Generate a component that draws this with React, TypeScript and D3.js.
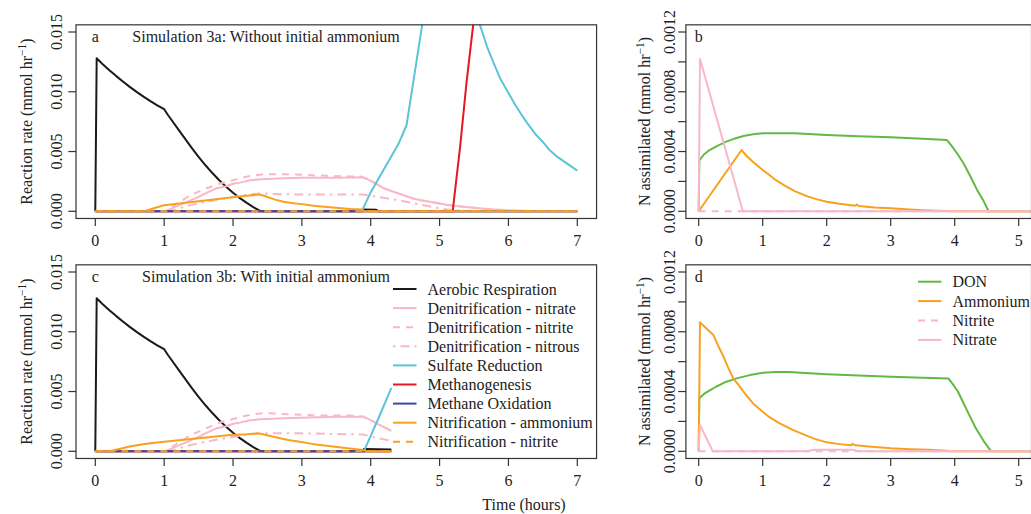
import React from 'react';
import * as d3 from 'd3';

type Pt = [number, number];

// Simulation 3a (no initial ammonium): reaction rates, [hours, mmol hr^-1]
const aerobicA: Pt[] = [[0, 0], [0.02, 0.0128], [0.1, 0.01235], [0.2, 0.01183], [0.3, 0.01133], [0.4, 0.01086], [0.5, 0.01041], [0.6, 0.00999], [0.7, 0.00959], [0.8, 0.00922], [0.9, 0.00887], [1.0, 0.00854], [1.05, 0.0081], [1.1, 0.0077], [1.2, 0.0069], [1.3, 0.0061], [1.4, 0.0053], [1.5, 0.00455], [1.6, 0.00385], [1.7, 0.0032], [1.8, 0.0026], [1.9, 0.00205], [2.0, 0.00155], [2.1, 0.0011], [2.2, 0.0007], [2.3, 0.00033], [2.38, 0.00008], [2.42, 0], [3.86, 0], [3.88, 0.00015], [4.08, 0.00012], [4.12, 0], [7, 0]];
const denitNitrateA: Pt[] = [[0, 0], [1.0, 0], [1.05, 0.0001], [1.1, 0.0002], [1.2, 0.00045], [1.3, 0.0007], [1.4, 0.00095], [1.5, 0.0012], [1.6, 0.0015], [1.75, 0.0019], [1.9, 0.0021], [2.0, 0.0023], [2.1, 0.0024], [2.25, 0.0026], [2.4, 0.00268], [2.5, 0.0027], [2.75, 0.00276], [3.0, 0.0028], [3.5, 0.0028], [3.87, 0.00285], [3.95, 0.0027], [4.05, 0.0024], [4.2, 0.0019], [4.3, 0.0017], [4.4, 0.0015], [4.5, 0.0013], [4.6, 0.0011], [4.73, 0.00093], [4.86, 0.0008], [5.0, 0.00065], [5.1, 0.00055], [5.2, 0.00047], [5.34, 0.00039], [5.5, 0.0003], [5.73, 0.00017], [6.0, 0.00008], [6.3, 0.00002], [6.5, 0], [7, 0]];
const denitNitriteA: Pt[] = [[0, 0], [1.04, 0], [1.1, 0.0003], [1.2, 0.0007], [1.3, 0.00105], [1.4, 0.0014], [1.5, 0.00165], [1.6, 0.0019], [1.7, 0.0021], [1.8, 0.0023], [1.9, 0.00245], [2.0, 0.0026], [2.1, 0.00275], [2.2, 0.0029], [2.3, 0.003], [2.45, 0.0031], [2.8, 0.0031], [3.2, 0.003], [3.7, 0.00292], [3.87, 0.0029], [3.95, 0.0027], [4.05, 0.0024], [4.2, 0.0019], [4.3, 0.0017], [4.4, 0.0015], [4.5, 0.0013], [4.6, 0.0011], [4.73, 0.00093], [4.86, 0.0008], [5.0, 0.00065], [5.1, 0.00055], [5.2, 0.00047], [5.34, 0.00039], [5.5, 0.0003], [5.73, 0.00017], [6.0, 0.00008], [6.3, 0.00002], [6.5, 0], [7, 0]];
const denitNitrousA: Pt[] = [[0, 0], [1.1, 0], [1.2, 0.0002], [1.3, 0.0004], [1.45, 0.0006], [1.6, 0.0008], [1.8, 0.001], [2.0, 0.0012], [2.2, 0.00138], [2.4, 0.0015], [2.6, 0.00145], [3.0, 0.0014], [3.5, 0.0014], [3.87, 0.0014], [4.0, 0.0013], [4.1, 0.0012], [4.25, 0.00107], [4.38, 0.00095], [4.5, 0.00082], [4.6, 0.0007], [4.73, 0.00055], [4.86, 0.0004], [5.05, 0.0002], [5.2, 0.0001], [5.5, 0], [7, 0]];
const sulfateA: Pt[] = [[0, 0], [3.87, 0], [4.0, 0.0016], [4.1, 0.0026], [4.2, 0.0036], [4.3, 0.0046], [4.4, 0.0056], [4.52, 0.0072], [4.75, 0.0157], [4.9, 0.022], [5.2, 0.03], [5.4, 0.025], [5.58, 0.0157], [5.7, 0.0136], [5.8, 0.0122], [5.88, 0.0111], [6.0, 0.0099], [6.1, 0.0089], [6.2, 0.008], [6.27, 0.0074], [6.4, 0.0064], [6.5, 0.0058], [6.6, 0.0051], [6.7, 0.0046], [6.8, 0.0042], [6.9, 0.0038], [7.0, 0.0034]];
const methanogenA: Pt[] = [[0, 0], [5.19, 0], [5.3, 0.0055], [5.39, 0.0107], [5.49, 0.0157], [5.55, 0.019]];
const methOxA: Pt[] = [[0, 0], [7, 0]];
const nitrAmmA: Pt[] = [[0, 0], [0.72, 0], [0.85, 0.00025], [1.0, 0.0005], [1.25, 0.00068], [1.5, 0.00085], [1.75, 0.001], [2.0, 0.00118], [2.2, 0.0013], [2.38, 0.0014], [2.45, 0.0013], [2.6, 0.001], [2.73, 0.0008], [2.85, 0.0007], [3.0, 0.0006], [3.2, 0.00045], [3.45, 0.00031], [3.7, 0.0002], [3.87, 0.00015], [3.9, 0], [7, 0]];
const nitrNitA: Pt[] = [[0, 0], [7, 0]];

// Simulation 3b (with initial ammonium)
const aerobicC: Pt[] = [[0, 0], [0.02, 0.0128], [0.1, 0.01235], [0.2, 0.01183], [0.3, 0.01133], [0.4, 0.01086], [0.5, 0.01041], [0.6, 0.00999], [0.7, 0.00959], [0.8, 0.00922], [0.9, 0.00887], [1.0, 0.00854], [1.05, 0.0081], [1.1, 0.0077], [1.2, 0.0069], [1.3, 0.0061], [1.4, 0.0053], [1.5, 0.00455], [1.6, 0.00385], [1.7, 0.0032], [1.8, 0.0026], [1.9, 0.00205], [2.0, 0.00155], [2.1, 0.0011], [2.2, 0.0007], [2.3, 0.00033], [2.38, 0.00008], [2.42, 0], [3.88, 0], [3.9, 0.0002], [4.3, 0.00015]];
const denitNitrateC: Pt[] = [[0, 0], [1.0, 0], [1.05, 0.0001], [1.1, 0.0002], [1.2, 0.00045], [1.3, 0.0007], [1.4, 0.00095], [1.5, 0.0012], [1.6, 0.0015], [1.75, 0.0019], [1.9, 0.0021], [2.0, 0.0023], [2.1, 0.0024], [2.25, 0.0026], [2.4, 0.00268], [2.5, 0.0027], [2.75, 0.00277], [3.0, 0.0028], [3.5, 0.0029], [3.89, 0.0029], [4.0, 0.0026], [4.1, 0.0023], [4.2, 0.002], [4.3, 0.0017]];
const denitNitriteC: Pt[] = [[0, 0], [1.04, 0], [1.1, 0.0003], [1.2, 0.0007], [1.3, 0.00105], [1.4, 0.0014], [1.5, 0.00165], [1.6, 0.0019], [1.7, 0.00215], [1.8, 0.0024], [1.9, 0.00255], [2.0, 0.0027], [2.1, 0.00285], [2.2, 0.003], [2.3, 0.0031], [2.45, 0.0032], [2.8, 0.0031], [3.2, 0.003], [3.7, 0.003], [3.89, 0.0029], [4.0, 0.0026], [4.1, 0.0023], [4.2, 0.002], [4.3, 0.0017]];
const denitNitrousC: Pt[] = [[0, 0], [1.1, 0], [1.2, 0.0002], [1.3, 0.0004], [1.45, 0.0006], [1.6, 0.0008], [1.8, 0.001], [2.0, 0.0012], [2.2, 0.0014], [2.4, 0.0015], [2.6, 0.0015], [3.0, 0.0015], [3.5, 0.00145], [3.89, 0.0014], [4.0, 0.00125], [4.1, 0.0011], [4.2, 0.00098], [4.3, 0.00088]];
const sulfateC: Pt[] = [[0, 0], [3.9, 0], [4.1, 0.0026], [4.3, 0.0053]];
const methanogenC: Pt[] = [[0, 0], [4.3, 0]];
const methOxC: Pt[] = [[0, 0], [4.3, 0]];
const nitrAmmC: Pt[] = [[0, 0], [0.2, 0], [0.35, 0.0002], [0.5, 0.0004], [0.65, 0.00055], [0.8, 0.00067], [1.0, 0.0008], [1.25, 0.00095], [1.5, 0.0011], [1.75, 0.00124], [1.96, 0.00136], [2.2, 0.00142], [2.37, 0.0015], [2.45, 0.0014], [2.6, 0.0012], [2.8, 0.00095], [2.97, 0.0008], [3.15, 0.00062], [3.3, 0.0005], [3.6, 0.0003], [3.89, 0.0001], [3.95, 0], [4.3, 0]];
const nitrNitC: Pt[] = [[0, 0], [4.3, 0]];

// N assimilated, without initial ammonium
const donB: Pt[] = [[0, 0], [0.01, 0.00034], [0.08, 0.00038], [0.17, 0.00041], [0.3, 0.00044], [0.43, 0.000466], [0.55, 0.000485], [0.7, 0.000504], [0.85, 0.000515], [1.0, 0.000522], [1.5, 0.000522], [2.0, 0.000511], [2.5, 0.000503], [3.0, 0.000495], [3.5, 0.000485], [3.88, 0.000477], [3.95, 0.00044], [4.05, 0.00038], [4.14, 0.00032], [4.25, 0.00023], [4.35, 0.000143], [4.45, 0.00007], [4.53, 0], [5.2, 0]];
const ammB: Pt[] = [[0, 0], [0.67, 0.00041], [0.75, 0.00037], [0.85, 0.00033], [1.0, 0.000276], [1.1, 0.000245], [1.2, 0.00021], [1.35, 0.00017], [1.5, 0.000135], [1.7, 0.0001], [1.85, 0.00008], [2.0, 0.000064], [2.2, 0.00005], [2.44, 0.000037], [2.47, 0.000045], [2.5, 0.000035], [2.75, 0.000026], [3.0, 0.00002], [3.3, 0.000012], [3.6, 0.000006], [4.0, 0], [5.2, 0]];
const nitriteB: Pt[] = [[0, 0], [5.2, 0]];
const nitrateB: Pt[] = [[0, 0], [0.02, 0.00102], [0.69, 0], [5.2, 0]];

// N assimilated, with initial ammonium
const donD: Pt[] = [[0, 0], [0.01, 0.000355], [0.1, 0.00039], [0.18, 0.00041], [0.27, 0.000432], [0.4, 0.00046], [0.59, 0.000488], [0.8, 0.00051], [1.0, 0.000525], [1.2, 0.00053], [1.4, 0.00053], [2.0, 0.000515], [2.5, 0.000507], [3.0, 0.000499], [3.5, 0.000492], [3.9, 0.000488], [3.97, 0.00045], [4.05, 0.0004], [4.14, 0.00032], [4.23, 0.00024], [4.33, 0.000154], [4.45, 0.00007], [4.57, 0], [5.2, 0]];
const ammD: Pt[] = [[0, 0], [0.02, 0.000863], [0.1, 0.00083], [0.23, 0.000778], [0.3, 0.00071], [0.38, 0.00064], [0.46, 0.00056], [0.54, 0.000488], [0.63, 0.00044], [0.72, 0.000388], [0.85, 0.00032], [1.0, 0.000265], [1.1, 0.00023], [1.25, 0.00019], [1.47, 0.000143], [1.6, 0.00012], [1.8, 0.000085], [2.0, 0.00006], [2.2, 0.000048], [2.38, 0.00004], [2.4, 0.00005], [2.45, 0.00004], [2.7, 0.00003], [3.0, 0.00002], [3.3, 0.000014], [3.6, 0.00001], [4.0, 0], [5.2, 0]];
const nitriteD: Pt[] = [[0, 0], [5.2, 0]];
const nitrateD: Pt[] = [[0, 0], [0.02, 0.000176], [0.22, 0], [1.7, 0], [1.8, 0.00001], [2.4, 0.00001], [2.5, 0], [5.2, 0]];

const reactionNames = ['Aerobic Respiration', 'Denitrification - nitrate', 'Denitrification - nitrite', 'Denitrification - nitrous', 'Sulfate Reduction', 'Methanogenesis', 'Methane Oxidation', 'Nitrification - ammonium', 'Nitrification - nitrite'];
const assimNames = ['DON', 'Ammonium', 'Nitrite', 'Nitrate'];

const xTicksLeft = [0, 1, 2, 3, 4, 5, 6, 7];
const xTicksRight = [0, 1, 2, 3, 4, 5];
const yTicksLeft = [0, 0.005, 0.01, 0.015];
const yTicksRight = [0, 0.0002, 0.0004, 0.0006, 0.0008, 0.001, 0.0012];
const yLabelsRight = [0, 0.0004, 0.0008, 0.0012];

const FONT = '"Liberation Serif", "Times New Roman", serif';
const BLACK = '#1a1a1a';
const PINK = '#f8b8c6';
const CYAN = '#5cc4d6';
const RED = '#e8161d';
const BLUE = '#3b4ba3';
const ORANGE = '#f6a21e';
const GREEN = '#63b846';
const DASH = '7,6';
const DOTDASH = '2.5,5,9,5';

const reactionStyle = [
  { color: BLACK }, { color: PINK }, { color: PINK, dash: DASH }, { color: PINK, dash: DOTDASH },
  { color: CYAN }, { color: RED }, { color: BLUE }, { color: ORANGE }, { color: ORANGE, dash: DASH },
];
const assimStyle = [{ color: GREEN }, { color: ORANGE }, { color: PINK, dash: DASH }, { color: PINK }];

type Series = { data: Pt[]; color: string; dash?: string };

function Panel(props: { id: string; off: number; side: 'left' | 'right'; series: Series[]; letter: string; title?: string }) {
  const { id, off, side, series, letter, title } = props;
  const left = side === 'left';
  const xMax = left ? 7 : 5;
  const yMax = left ? 0.015 : 0.0012;
  const x = d3.scaleLinear().domain([0, xMax]).range(left ? [95.3, 577.3] : [698.7, 1018.7]);
  const y = d3.scaleLinear().domain([0, yMax]).range([211.3 + off, 32 + off]);
  const padX = xMax * 0.04, padY = yMax * 0.04;
  const bx1 = x(-padX), bx2 = x(xMax + padX), by1 = y(yMax + padY), by2 = y(-padY);
  const line = d3.line<Pt>().x(d => x(d[0])).y(d => y(d[1]));
  const xTicks = left ? xTicksLeft : xTicksRight;
  const yTicks = left ? yTicksLeft : yTicksRight;
  const yLabels = left ? yTicksLeft : yLabelsRight;
  const fmt = left ? d3.format('.3f') : d3.format('.4f');
  const labX = left ? bx1 - 14.5 : bx1 - 11;

  return (
    <g>
      <defs>
        <clipPath id={id}>
          <rect x={bx1} y={by1} width={bx2 - bx1} height={by2 - by1} />
        </clipPath>
      </defs>
      <g clipPath={`url(#${id})`} fill="none" strokeWidth={2} strokeLinejoin="round">
        {series.map((s, i) => (
          <path key={i} d={line(s.data) || ''} stroke={s.color} strokeDasharray={s.dash} />
        ))}
      </g>
      <rect x={bx1} y={by1} width={bx2 - bx1} height={by2 - by1} fill="none" stroke="#333" strokeWidth={1.2} />
      {yTicks.map(t => (
        <line key={t} x1={bx1 - 7.7} x2={bx1} y1={y(t)} y2={y(t)} stroke="#333" strokeWidth={1.2} />
      ))}
      {yLabels.map(t => (
        <text key={t} x={labX} y={y(t)} transform={`rotate(-90 ${labX} ${y(t)})`} textAnchor="middle" fontSize={16}>{fmt(t)}</text>
      ))}
      {xTicks.map(t => (
        <g key={t}>
          <line x1={x(t)} x2={x(t)} y1={by2} y2={by2 + 7.5} stroke="#333" strokeWidth={1.2} />
          <text x={x(t)} y={by2 + 28} textAnchor="middle" fontSize={16}>{t}</text>
        </g>
      ))}
      <text x={x(0)} y={42 + off} textAnchor="middle" fontSize={16}>{letter}</text>
      {title && <text x={x(2.48)} y={42 + off} textAnchor="middle" fontSize={16}>{title}</text>}
    </g>
  );
}

function Legend(props: { names: string[]; styles: { color: string; dash?: string }[]; x0: number; y0: number; step: number }) {
  const { names, styles, x0, y0, step } = props;
  return (
    <g>
      {names.map((n, i) => (
        <g key={n}>
          <line x1={x0} x2={x0 + 23.5} y1={y0 + i * step} y2={y0 + i * step} stroke={styles[i].color} strokeWidth={2} strokeDasharray={styles[i].dash} />
          <text x={x0 + 34.5} y={y0 + i * step + 5.5} fontSize={16}>{n}</text>
        </g>
      ))}
    </g>
  );
}

function YTitle(props: { x: number; y: number; label: string }) {
  const { x, y, label } = props;
  return (
    <text x={x} y={y} transform={`rotate(-90 ${x} ${y})`} textAnchor="middle" fontSize={16}>
      {label} (mmol hr<tspan dy={-6} fontSize={11.5}>−1</tspan><tspan dy={6}>)</tspan>
    </text>
  );
}

export default function App() {
  const withStyle = (arrs: Pt[][], styles: { color: string; dash?: string }[]): Series[] =>
    arrs.map((data, i) => ({ data, ...styles[i] }));
  const seriesA = withStyle([aerobicA, denitNitrateA, denitNitriteA, denitNitrousA, sulfateA, methanogenA, methOxA, nitrAmmA, nitrNitA], reactionStyle);
  const seriesC = withStyle([aerobicC, denitNitrateC, denitNitriteC, denitNitrousC, sulfateC, methanogenC, methOxC, nitrAmmC, nitrNitC], reactionStyle);
  const seriesB = withStyle([donB, ammB, nitriteB, nitrateB], assimStyle);
  const seriesD = withStyle([donD, ammD, nitriteD, nitrateD], assimStyle);

  return (
    <svg width={1031} height={514} style={{ position: 'absolute', left: 0, top: 0, background: '#fff' }} fontFamily={FONT} fill="#222">
      <Panel id="clipA" off={0} side="left" series={seriesA} letter="a" title="Simulation 3a: Without initial ammonium" />
      <Panel id="clipB" off={0} side="right" series={seriesB} letter="b" />
      <Panel id="clipC" off={240} side="left" series={seriesC} letter="c" title="Simulation 3b: With initial ammonium" />
      <Panel id="clipD" off={240} side="right" series={seriesD} letter="d" />
      <Legend names={reactionNames} styles={reactionStyle} x0={393} y0={289} step={19.1} />
      <Legend names={assimNames} styles={assimStyle} x0={918} y0={281.7} step={19.4} />
      <YTitle x={32} y={121.5} label="Reaction rate" />
      <YTitle x={32} y={361.5} label="Reaction rate" />
      <YTitle x={650} y={121.5} label="N assimilated" />
      <YTitle x={650} y={361.5} label="N assimilated" />
      <text x={524} y={510} textAnchor="middle" fontSize={16}>Time (hours)</text>
    </svg>
  );
}
